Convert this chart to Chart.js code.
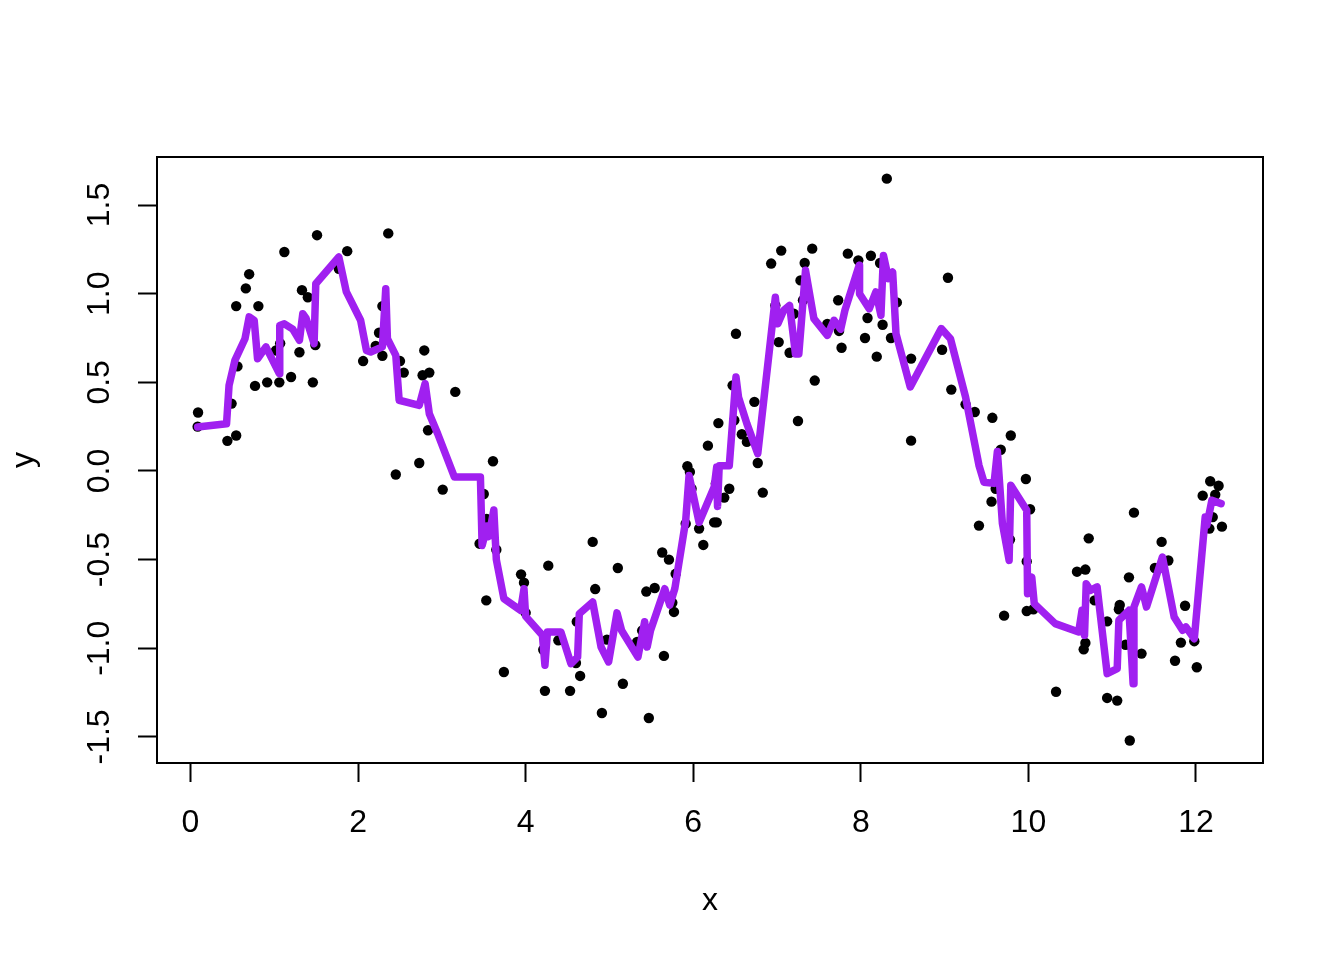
<!DOCTYPE html>
<html>
<head>
<meta charset="utf-8">
<script src="https://cdn.jsdelivr.net/npm/chart.js@4/dist/chart.umd.min.js"></script>
<style>
  html, body { margin: 0; padding: 0; background: #ffffff; overflow: hidden; }
  #c { display: block; }
</style>
</head>
<body>
<canvas id="c" width="1344" height="960" style="width:1344px;height:960px"></canvas>
<script>
// ---- data ----
const pointX = [0.085,0.09,0.44,0.49,0.545,0.545,0.56,0.66,0.70,0.77,0.81,0.915,1.02,1.06,1.07,1.12,1.20,1.30,1.33,1.40,1.46,1.49,1.51,1.77,1.87,2.06,2.21,2.25,2.29,2.29,2.36,2.45,2.50,2.545,2.73,2.77,2.79,2.835,2.85,3.01,3.16,3.45,3.50,3.53,3.535,3.61,3.65,3.74,3.945,3.98,4.00,4.21,4.23,4.27,4.39,4.53,4.60,4.61,4.65,4.80,4.83,4.91,4.97,5.10,5.16,5.33,5.39,5.44,5.47,5.54,5.63,5.65,5.71,5.75,5.77,5.79,5.91,5.93,5.96,5.98,6.07,6.12,6.175,6.25,6.27,6.28,6.30,6.37,6.43,6.47,6.49,6.51,6.58,6.64,6.73,6.77,6.83,6.93,6.98,7.02,7.05,7.15,7.20,7.25,7.28,7.31,7.33,7.42,7.45,7.60,7.73,7.74,7.77,7.845,7.97,8.05,8.08,8.12,8.19,8.23,8.26,8.31,8.36,8.43,8.60,8.60,8.97,9.04,9.08,9.25,9.36,9.41,9.56,9.57,9.61,9.67,9.71,9.78,9.79,9.97,9.98,9.98,10.02,10.06,10.33,10.58,10.66,10.68,10.68,10.72,10.79,10.94,10.94,11.06,11.08,11.09,11.16,11.20,11.21,11.26,11.35,11.51,11.59,11.67,11.75,11.82,11.87,11.98,12.01,12.08,12.16,12.17,12.20,12.23,12.27,12.31];
const pointY = [0.25,0.33,0.17,0.38,0.20,0.93,0.59,1.03,1.11,0.48,0.93,0.50,0.68,0.50,0.72,1.235,0.53,0.67,1.02,0.98,0.50,0.71,1.33,1.14,1.24,0.62,0.705,0.78,0.65,0.93,1.34,-0.02,0.62,0.555,0.045,0.54,0.68,0.23,0.555,-0.105,0.446,-0.41,-0.13,-0.73,-0.27,0.055,-0.444,-1.134,-0.583,-0.63,-0.80,-1.008,-1.24,-0.534,-0.955,-1.24,-1.083,-0.85,-1.156,-0.40,-0.666,-1.365,-0.951,-0.547,-1.20,-0.964,-0.90,-0.68,-1.393,-0.66,-0.46,-1.043,-0.50,-0.743,-0.795,-0.58,-0.297,0.027,-0.005,-0.10,-0.325,-0.417,0.143,-0.29,-0.07,-0.29,0.27,-0.15,-0.10,0.483,0.286,0.774,0.207,0.164,0.39,0.045,-0.122,1.17,0.934,0.727,1.243,0.667,0.887,0.282,1.075,0.963,1.173,1.254,0.51,0.83,0.963,0.79,0.695,1.226,1.188,0.75,0.863,1.214,0.645,1.173,0.825,1.649,0.75,0.951,0.634,0.171,0.684,1.09,0.459,0.376,0.333,-0.308,-0.173,0.30,-0.10,0.12,-0.816,-0.387,0.20,-0.045,-0.51,-0.79,-0.216,-0.78,-1.245,-0.568,-1.006,-0.556,-0.97,-0.38,-0.73,-0.848,-1.28,-1.295,-0.78,-0.756,-0.98,-0.60,-1.52,-0.235,-1.03,-0.547,-0.40,-0.505,-1.07,-0.968,-0.76,-0.96,-1.107,-0.139,-0.325,-0.058,-0.26,-0.134,-0.083,-0.314];

const fitX = [0.085,0.43,0.46,0.53,0.65,0.70,0.76,0.80,0.90,1.06,1.065,1.12,1.22,1.30,1.34,1.38,1.475,1.495,1.77,1.86,2.03,2.10,2.15,2.29,2.33,2.35,2.45,2.49,2.73,2.80,2.85,2.95,3.15,3.46,3.48,3.54,3.56,3.62,3.65,3.74,3.94,3.98,4.00,4.20,4.23,4.26,4.42,4.54,4.62,4.64,4.80,4.90,4.99,5.09,5.145,5.34,5.42,5.45,5.49,5.66,5.72,5.78,5.91,5.95,6.07,6.25,6.28,6.29,6.31,6.43,6.51,6.54,6.64,6.77,6.98,7.01,7.08,7.15,7.22,7.26,7.34,7.44,7.60,7.68,7.76,7.81,7.98,7.985,8.10,8.18,8.24,8.27,8.33,8.38,8.42,8.59,8.96,9.07,9.25,9.41,9.47,9.59,9.63,9.69,9.77,9.79,9.98,9.99,10.04,10.07,10.32,10.60,10.64,10.67,10.69,10.74,10.82,10.94,11.06,11.08,11.20,11.25,11.26,11.35,11.41,11.60,11.74,11.84,11.88,11.98,12.11,12.13,12.19,12.30];
const fitY = [0.248,0.267,0.483,0.624,0.746,0.869,0.85,0.633,0.70,0.549,0.82,0.83,0.80,0.737,0.887,0.86,0.718,1.056,1.207,1.01,0.85,0.68,0.671,0.70,1.028,0.746,0.652,0.399,0.37,0.493,0.323,0.21,-0.034,-0.034,-0.42,-0.31,-0.37,-0.22,-0.50,-0.72,-0.786,-0.664,-0.82,-0.927,-1.096,-0.908,-0.908,-1.087,-1.05,-0.805,-0.739,-0.993,-1.077,-0.80,-0.90,-1.05,-0.85,-0.993,-0.90,-0.664,-0.757,-0.664,-0.28,-0.025,-0.29,-0.09,0.023,-0.20,0.03,0.03,0.53,0.417,0.267,0.098,0.98,0.83,0.906,0.934,0.66,0.66,1.132,0.859,0.765,0.85,0.80,0.906,1.16,1.0,0.915,1.01,0.878,1.216,1.085,1.122,0.774,0.474,0.803,0.746,0.417,0.032,-0.063,-0.07,0.11,-0.297,-0.504,-0.08,-0.222,-0.692,-0.598,-0.748,-0.861,-0.908,-0.786,-0.927,-0.636,-0.673,-0.654,-1.143,-1.115,-0.842,-0.786,-1.20,-0.767,-0.654,-0.767,-0.485,-0.823,-0.899,-0.88,-0.946,-0.26,-0.306,-0.165,-0.184];

const xTicks = [0, 2, 4, 6, 8, 10, 12];
const yTicks = [-1.5, -1.0, -0.5, 0.0, 0.5, 1.0, 1.5];
const xTitle = 'x';
const yTitle = 'y';

// ---- chart ----
const FONT = 'Liberation Sans, Arial, Helvetica, sans-serif';
const points = pointX.map((x, i) => ({ x: x, y: pointY[i] }));
const fit = fitX.map((x, i) => ({ x: x, y: fitY[i] }));

const boxPlugin = {
  id: 'box',
  afterDatasetsDraw(chart) {
    const a = chart.chartArea, ctx = chart.ctx;
    ctx.save();
    ctx.strokeStyle = '#000';
    ctx.lineWidth = 2;
    ctx.strokeRect(a.left, a.top, a.right - a.left, a.bottom - a.top);
    ctx.restore();
  }
};

const bgPlugin = {
  id: 'bg',
  beforeDraw(chart) {
    const ctx = chart.ctx;
    ctx.save();
    ctx.fillStyle = '#ffffff';
    ctx.fillRect(0, 0, chart.width, chart.height);
    ctx.restore();
  }
};

Chart.defaults.font.family = FONT;
Chart.defaults.color = '#000';

new Chart(document.getElementById('c'), {
  type: 'scatter',
  data: {
    datasets: [
      {
        data: fit,
        showLine: true,
        borderColor: '#A020F0',
        borderWidth: 7.5,
        borderJoinStyle: 'round',
        borderCapStyle: 'round',
        pointRadius: 0,
        tension: 0,
        order: 0
      },
      {
        data: points,
        showLine: false,
        pointRadius: 5.2,
        pointBackgroundColor: '#000',
        pointBorderWidth: 0,
        order: 1
      }
    ]
  },
  options: {
    responsive: false,
    maintainAspectRatio: false,
    animation: false,
    devicePixelRatio: 1,
    layout: { padding: { top: 157, right: 81, bottom: 0, left: 0 } },
    plugins: { legend: { display: false }, tooltip: { enabled: false } },
    scales: {
      x: {
        type: 'linear',
        min: -0.40,
        max: 12.80,
        afterFit: s => { s.height = 197; },
        afterBuildTicks: s => { s.ticks = xTicks.map(v => ({ value: v })); },
        grid: { display: true, drawOnChartArea: false, drawTicks: true, tickLength: 19, tickWidth: 2, tickColor: '#000' },
        border: { display: false },
        ticks: { font: { size: 32 }, color: '#000', padding: 22, maxRotation: 0, minRotation: 0, autoSkip: false,
                 callback: v => String(v) },
        title: { display: true, text: xTitle, font: { size: 32 }, color: '#000', padding: { top: 0, bottom: 40 } }
      },
      y: {
        type: 'linear',
        min: -1.647,
        max: 1.771,
        afterFit: s => { s.width = 157; },
        afterBuildTicks: s => { s.ticks = yTicks.map(v => ({ value: v })); },
        grid: { display: true, drawOnChartArea: false, drawTicks: true, tickLength: 19, tickWidth: 2, tickColor: '#000' },
        border: { display: false },
        ticks: { font: { size: 32 }, color: '#000', padding: 10, minRotation: 90, maxRotation: 90, crossAlign: 'center', autoSkip: false,
                 callback: v => v.toFixed(1) },
        title: { display: true, text: yTitle, font: { size: 32 }, color: '#000', padding: { top: 5, bottom: 0 } }
      }
    }
  },
  plugins: [bgPlugin, boxPlugin]
});
</script>
</body>
</html>
